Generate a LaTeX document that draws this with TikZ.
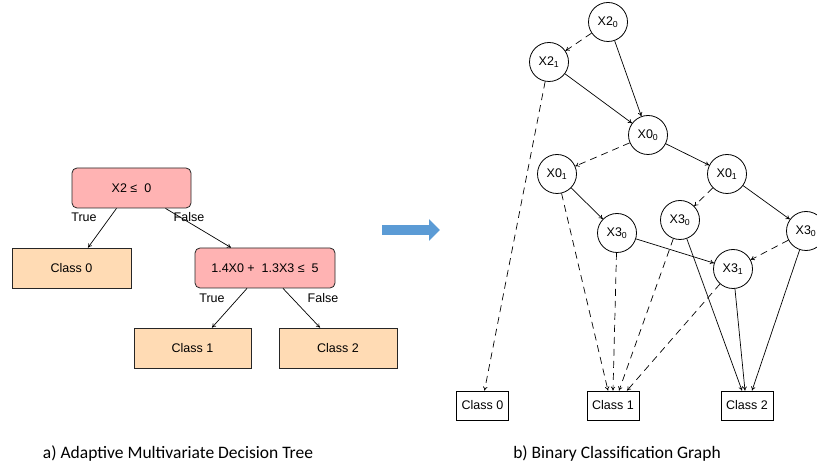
\documentclass[tikz,border=0pt]{standalone}
\usepackage{fontspec}
\setmainfont{Liberation Sans}
\newfontfamily\capfont{Carlito}
\usepackage{tikz}
\usetikzlibrary{shapes,arrows.meta}

\definecolor{condpink}{RGB}{255,179,179}
\definecolor{leaforange}{RGB}{255,219,180}
\definecolor{flowblue}{RGB}{91,155,213}

\begin{document}
\begin{tikzpicture}[x=1pt,y=-1pt]
            \tikzstyle{cond}=[rectangle, rounded corners=5pt, minimum width=119pt, minimum height=40pt, inner sep=2pt, line width=0.8pt, draw = black!85, fill=condpink, font=\fontsize{12.5}{14}\selectfont]
            \tikzstyle{leaf}=[rectangle, minimum width=119pt, minimum height=40pt, inner sep=2pt, line width=0.8pt, draw = black!85, fill=leaforange, font=\fontsize{12.5}{14}\selectfont]
            \tikzstyle{var}=[circle, minimum size=39pt, inner sep=0pt, line width=0.8pt, draw = black, font=\fontsize{12.5}{14}\selectfont]
            \tikzstyle{cls}=[rectangle, minimum width=52pt, minimum height=29pt, inner sep=1pt, line width=0.8pt, draw = black, font=\fontsize{12.5}{14}\selectfont]
            \tikzstyle{tlabel}=[font=\fontsize{12.5}{14}\selectfont]
            \tikzstyle{connect}=[-{To[length=4pt,width=4.5pt]}, line width=0.7pt]
            \tikzstyle{hi}=[connect]
            \tikzstyle{lo}=[connect, dash pattern=on 7pt off 5pt]
            \useasboundingbox (0,0) rectangle (817,470);

            % a) decision tree
            \node[cond] (R) at (131.5,188){X2 ≤\ \ 0};
            \node[leaf] (L0) at (71.5,268){Class 0};
            \node[cond, minimum width=140pt] (N2) at (265,268){1.4X0 +\ \ 1.3X3 ≤\ \ 5};
            \node[leaf, minimum width=117pt] (L1) at (192.5,348){Class 1};
            \node[leaf, minimum width=118pt] (L2) at (338,348){Class 2};
            \draw[connect] ([xshift=-15pt]R.south) -- ([xshift=16.5pt]L0.north);
            \draw[connect] ([xshift=34pt]R.south) -- ([xshift=-34pt]N2.north);
            \draw[connect] ([xshift=-18pt]N2.south) -- ([xshift=19.5pt]L1.north);
            \draw[connect] ([xshift=18pt]N2.south) -- ([xshift=-18pt]L2.north);
            \node[tlabel] (t1) at (84,217){True};
            \node[tlabel] (f1) at (189,217){False};
            \node[tlabel] (t2) at (212,298){True};
            \node[tlabel] (f2) at (323,298){False};

            % arrow between the two parts
            \coordinate (A0) at (382,230);
            \coordinate (A1) at (440,230);
            \draw[-{Triangle[length=11pt,width=21pt]}, line width=10pt, draw=flowblue] (A0) -- (A1);

            % b) binary classification graph
            \node[var] (X20) at (608,22){X2\textsubscript{0}};
            \node[var] (X21) at (549,62){X2\textsubscript{1}};
            \node[var] (X00) at (648,135){X0\textsubscript{0}};
            \node[var] (X01a) at (557,174){X0\textsubscript{1}};
            \node[var] (X01b) at (727,174){X0\textsubscript{1}};
            \node[var] (X30a) at (617,233){X3\textsubscript{0}};
            \node[var] (X30b) at (680,220){X3\textsubscript{0}};
            \node[var] (X30c) at (806,231){X3\textsubscript{0}};
            \node[var] (X31) at (733,269){X3\textsubscript{1}};
            \node[cls] (C0) at (482.5,405.5){Class 0};
            \node[cls] (C1) at (613,405.5){Class 1};
            \node[cls] (C2) at (747,405.5){Class 2};

            \path (X20) edge [lo] (X21);
            \path (X20) edge [hi] (X00);
            \path (X21) edge [hi] (X00);
            \path (X21) edge [lo] ([xshift=2pt]C0.north);
            \path (X00) edge [lo] (X01a);
            \path (X00) edge [hi] (X01b);
            \path (X01a) edge [hi] (X30a);
            \path (X01a) edge [lo] ([xshift=-5pt]C1.north);
            \path (X01b) edge [lo] (X30b);
            \path (X01b) edge [hi] (X30c);
            \path (X30a) edge [hi] (X31);
            \path (X30a) edge [lo] (C1.north);
            \path (X30b) edge [lo] ([xshift=6pt]C1.north);
            \path (X30b) edge [hi] ([xshift=-5pt]C2.north);
            \path (X30c) edge [lo] (X31);
            \path (X30c) edge [hi] ([xshift=5pt]C2.north);
            \path (X31) edge [lo] ([xshift=14pt]C1.north);
            \path (X31) edge [hi] ([xshift=-2pt]C2.north);

            % captions
            \node[font=\capfont\fontsize{17.5}{20}\selectfont] (capa) at (178,454){a) Adaptive Multivariate Decision Tree};
            \node[font=\capfont\fontsize{17.5}{20}\selectfont] (capb) at (617,454){b) Binary Classification Graph};
        \end{tikzpicture}
\end{document}
